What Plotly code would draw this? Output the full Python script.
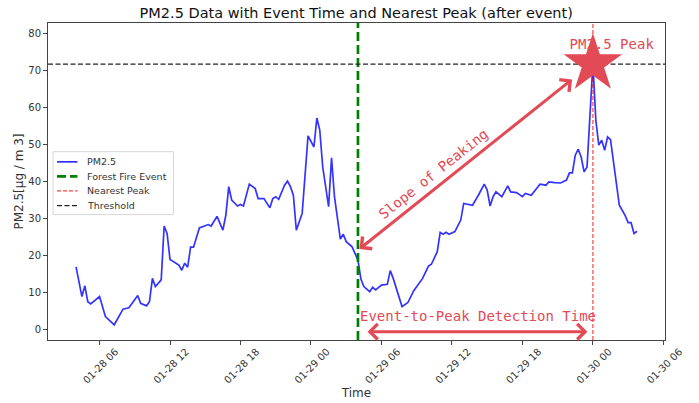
import pandas as pd
import plotly.graph_objects as go

# ---------------- data ----------------
times = [
    "2024-01-28 04:00", "2024-01-28 04:30", "2024-01-28 04:45", "2024-01-28 05:00", "2024-01-28 05:15",
    "2024-01-28 06:00", "2024-01-28 06:30", "2024-01-28 07:15", "2024-01-28 08:00", "2024-01-28 08:30",
    "2024-01-28 09:15", "2024-01-28 09:30", "2024-01-28 10:00", "2024-01-28 10:15", "2024-01-28 10:30",
    "2024-01-28 10:45", "2024-01-28 11:15", "2024-01-28 11:30", "2024-01-28 11:45", "2024-01-28 12:00",
    "2024-01-28 12:45", "2024-01-28 13:00", "2024-01-28 13:15", "2024-01-28 13:30", "2024-01-28 13:45",
    "2024-01-28 14:00", "2024-01-28 14:30", "2024-01-28 15:00", "2024-01-28 15:15", "2024-01-28 15:30",
    "2024-01-28 16:00", "2024-01-28 16:30", "2024-01-28 16:45", "2024-01-28 17:00", "2024-01-28 17:15",
    "2024-01-28 17:45", "2024-01-28 18:00", "2024-01-28 18:15", "2024-01-28 18:45", "2024-01-28 19:15",
    "2024-01-28 19:30", "2024-01-28 20:00", "2024-01-28 20:30", "2024-01-28 20:45", "2024-01-28 21:00",
    "2024-01-28 21:15", "2024-01-28 21:45", "2024-01-28 22:00", "2024-01-28 22:15", "2024-01-28 22:30",
    "2024-01-28 22:45", "2024-01-28 23:15", "2024-01-28 23:45", "2024-01-29 00:15", "2024-01-29 00:30",
    "2024-01-29 00:45", "2024-01-29 01:00", "2024-01-29 01:30", "2024-01-29 01:45", "2024-01-29 02:00",
    "2024-01-29 02:30", "2024-01-29 02:45", "2024-01-29 03:00", "2024-01-29 03:30", "2024-01-29 04:00",
    "2024-01-29 04:15", "2024-01-29 04:30", "2024-01-29 05:00", "2024-01-29 05:15", "2024-01-29 05:30",
    "2024-01-29 06:00", "2024-01-29 06:30", "2024-01-29 06:45", "2024-01-29 07:00", "2024-01-29 07:30",
    "2024-01-29 07:45", "2024-01-29 08:15", "2024-01-29 08:45", "2024-01-29 09:30", "2024-01-29 10:00",
    "2024-01-29 10:15", "2024-01-29 10:45", "2024-01-29 11:00", "2024-01-29 11:15", "2024-01-29 11:30",
    "2024-01-29 11:45", "2024-01-29 12:15", "2024-01-29 12:45", "2024-01-29 13:00", "2024-01-29 13:30",
    "2024-01-29 13:45", "2024-01-29 14:15", "2024-01-29 14:45", "2024-01-29 15:00", "2024-01-29 15:15",
    "2024-01-29 15:30", "2024-01-29 15:45", "2024-01-29 16:15", "2024-01-29 16:45", "2024-01-29 17:00",
    "2024-01-29 17:30", "2024-01-29 18:00", "2024-01-29 18:15", "2024-01-29 18:45", "2024-01-29 19:00",
    "2024-01-29 19:30", "2024-01-29 20:00", "2024-01-29 20:15", "2024-01-29 20:45", "2024-01-29 21:15",
    "2024-01-29 21:45", "2024-01-29 22:00", "2024-01-29 22:15", "2024-01-29 22:30", "2024-01-29 22:45",
    "2024-01-29 23:00", "2024-01-29 23:15", "2024-01-29 23:30", "2024-01-30 00:00", "2024-01-30 00:15",
    "2024-01-30 00:30", "2024-01-30 00:45", "2024-01-30 01:00", "2024-01-30 01:15", "2024-01-30 01:30",
    "2024-01-30 01:45", "2024-01-30 02:15", "2024-01-30 02:45", "2024-01-30 03:00", "2024-01-30 03:15",
    "2024-01-30 03:30", "2024-01-30 03:45",
]
pm25 = [
    17.0, 9.0, 11.9, 7.6, 7.0,
    9.0, 3.6, 1.4, 5.6, 6.0,
    9.3, 7.2, 6.5, 7.6, 13.9,
    11.7, 13.5, 28.0, 26.0, 19.0,
    17.5, 16.1, 18.0, 16.9, 22.3,
    22.3, 27.5, 28.0, 28.4, 28.0,
    30.6, 26.9, 30.9, 38.6, 35.0,
    33.4, 33.8, 33.4, 39.3, 38.1,
    35.4, 35.4, 32.9, 35.4, 35.9,
    35.2, 39.0, 40.1, 38.6, 36.3,
    26.9, 31.4, 52.3, 49.3, 57.1,
    53.8, 43.9, 33.2, 46.4, 35.9,
    24.5, 25.8, 23.8, 22.4, 18.8,
    13.7, 11.7, 10.3, 11.5, 10.8,
    12.1, 12.3, 16.0, 13.9, 8.5,
    6.3, 7.4, 10.6, 13.9, 17.2,
    17.7, 21.1, 26.3, 25.8, 26.3,
    25.8, 26.5, 29.6, 34.1, 33.8,
    33.6, 36.3, 39.3, 37.7, 33.4,
    35.9, 37.2, 35.9, 38.8, 37.2,
    37.0, 35.9, 36.8, 36.3, 37.2,
    39.3, 39.0, 39.9, 39.7, 39.6,
    40.4, 42.3, 42.3, 47.1, 48.7,
    46.6, 42.6, 43.9, 71.7, 56.5,
    49.8, 51.1, 48.4, 52.0, 51.3,
    45.5, 33.6, 30.8, 28.9, 28.9,
    26.0, 26.6,
]
event_time = "2024-01-29 04:00"
peak_time = "2024-01-30 00:00"
peak_value = 71.7
threshold = 71.6
y_range = [-2.7, 82.7]
x_tick_format = "%m-%d %H"
legend_labels = ["PM2.5", "Forest Fire Event", "Nearest Peak", "Threshold"]

# ---------------- figure ----------------
t = pd.to_datetime(times)
ev = pd.Timestamp(event_time)
pk = pd.Timestamp(peak_time)
H = pd.Timedelta(hours=1)
span = t.max() - t.min()
x_range = [t.min() - span * 0.05, t.max() + span * 0.05]

W, HGT = 699, 403
ML, MR, MT, MB = 47.5, 34, 22.7, 63
PW, PH = W - ML - MR, HGT - MT - MB


def px_x(px):  # pixel -> paper x
    return (px - ML) / PW


def px_y(py):  # pixel -> paper y
    return (HGT - MB - py) / PH


RED = "#E24A55"
MONO = "DejaVu Sans Mono, monospace"
styles = [
    dict(color="rgba(0,0,255,0.8)", width=1.7, dash="solid"),
    dict(color="green", width=2.7, dash="9px,4px"),
    dict(color="rgba(255,0,0,0.75)", width=1.2, dash="4px,2px"),
    dict(color="#222", width=1.3, dash="5px,2.5px"),
]

fig = go.Figure()
fig.add_trace(go.Scatter(x=t, y=pm25, mode="lines", name=legend_labels[0], line=styles[0]))
fig.add_trace(go.Scatter(x=[ev, ev], y=y_range, mode="lines", name=legend_labels[1], line=styles[1]))
fig.add_trace(go.Scatter(x=[pk, pk], y=y_range, mode="lines", name=legend_labels[2], line=styles[2]))
fig.add_trace(go.Scatter(x=list(x_range), y=[threshold, threshold], mode="lines", name=legend_labels[3],
                         line=styles[3]))
# peak label (drawn under the star)
fig.add_trace(go.Scatter(x=[pk + 1.6 * H], y=[76.7], mode="text", text=["PM2.5 Peak"],
                         textfont=dict(family=MONO, size=14, color=RED), hoverinfo="skip"))
fig.add_trace(go.Scatter(x=[pk], y=[peak_value], mode="markers",
                         marker=dict(symbol="star", size=44, color=RED, line=dict(width=0))))

ann = []
shapes = []
# slope double arrow
ann.append(dict(x=pk - 1.77 * H, y=67.5, ax=ev, ay=21.5, xref="x", yref="y", axref="x", ayref="y",
                text="", showarrow=True, arrowhead=4, startarrowhead=4, arrowside="end+start",
                arrowwidth=3, arrowsize=1, startarrowsize=1, arrowcolor=RED, standoff=0, startstandoff=0))
ann.append(dict(x=ev + 6.4 * H, y=42.0, xref="x", yref="y", text="Slope of Peaking", showarrow=False,
                textangle=-38.5, font=dict(family=MONO, size=14, color=RED)))
# detection time arrow
ann.append(dict(x=pk - 0.47 * H, y=-0.45, ax=ev + 0.69 * H, ay=-0.45, xref="x", yref="y", axref="x", ayref="y",
                text="", showarrow=True, arrowhead=4, startarrowhead=4, arrowside="end+start",
                arrowwidth=3, arrowsize=1, startarrowsize=1, arrowcolor=RED, standoff=0, startstandoff=0))
ann.append(dict(x=ev + 10.18 * H, y=3.8, xref="x", yref="y", text="Event-to-Peak Detection Time",
                showarrow=False, font=dict(family=MONO, size=14, color=RED)))

# hand-drawn legend (matplotlib-like compact rows)
shapes.append(dict(type="rect", xref="paper", yref="paper", x0=px_x(52.5), x1=px_x(173), y0=px_y(151.5),
                   y1=px_y(214.5), line=dict(color="#d6d6d6", width=1), fillcolor="rgba(255,255,255,0.8)",
                   layer="above"))
row_y = [161.7, 176.2, 190.8, 205.4]
for lab, st, ry in zip(legend_labels, styles, row_y):
    shapes.append(dict(type="line", xref="paper", yref="paper", x0=px_x(56.5), x1=px_x(77), y0=px_y(ry),
                       y1=px_y(ry), line=st, layer="above"))
    ann.append(dict(x=px_x(84.5), y=px_y(ry), xref="paper", yref="paper", text=lab, showarrow=False,
                    xanchor="left", yanchor="middle", font=dict(size=9.5, color="#333")))

fig.update_layout(
    width=W, height=HGT,
    margin=dict(l=ML, r=MR, t=MT, b=MB),
    paper_bgcolor="white", plot_bgcolor="white",
    font=dict(family="DejaVu Sans, sans-serif", size=10, color="#333"),
    title=dict(text="PM2.5 Data with Event Time and Nearest Peak (after event)",
               x=(ML + W - MR) / 2 / W, xanchor="center", y=1 - 13 / HGT, yanchor="middle",
               font=dict(size=14.5, color="#111")),
    showlegend=False,
    annotations=ann,
    shapes=shapes,
)
fig.update_xaxes(range=x_range, type="date", tickformat=x_tick_format, dtick=6 * 3600 * 1000,
                 tick0="2024-01-28 00:00", tickangle=-45, ticks="outside", ticklen=4, tickcolor="#444",
                 showline=True, linecolor="#444", linewidth=1, mirror=True, showgrid=False, zeroline=False,
                 title=dict(text="Time", standoff=2), ticklabelshift=16, ticklabelstandoff=-3,
                 automargin=False)
fig.update_yaxes(range=y_range, dtick=10, ticks="outside", ticklen=4, tickcolor="#444",
                 showline=True, linecolor="#444", linewidth=1, mirror=True, showgrid=False, zeroline=False,
                 title=dict(text="PM2.5[μg / m 3]", standoff=2), automargin=False)

fig.write_html("out.html", config={"displayModeBar": False},
               post_script="document.body.style.margin='0';document.body.style.padding='0';")
